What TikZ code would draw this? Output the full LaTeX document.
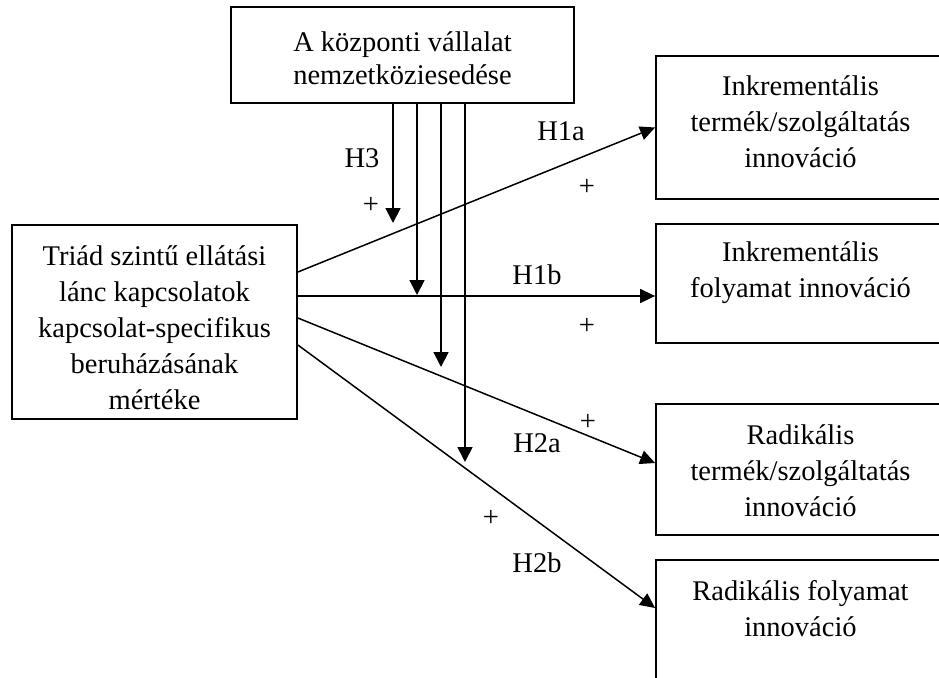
\documentclass[tikz,border=0pt]{standalone}
\usepackage{fontspec}
\setmainfont{Liberation Serif}
\usetikzlibrary{arrows.meta,calc}
\begin{document}
\begin{tikzpicture}[x=1pt,y=-1pt,
  box/.style={draw, line width=1.8pt, inner sep=0pt},
  txt/.style={align=center, inner sep=0pt, font=\fontsize{28.5}{36}\selectfont},
  conn/.style={line width=1.5pt, -{Triangle[length=15pt,width=14pt]}},
  vconn/.style={line width=1.8pt, -{Triangle[length=15pt,width=15pt]}},
  lbl/.style={font=\fontsize{28.5}{34}\selectfont, inner sep=0pt}]
\useasboundingbox (0,0) rectangle (939,677);
\clip (0,0) rectangle (939,677);
% boxes
\node (T) [box, minimum width=343pt, minimum height=96pt,
  label={[txt, font=\fontsize{28.5}{33}\selectfont, yshift=-3.5pt]center:{A központi vállalat\\nemzetköziesedése}}] at (402.5,55) {};
\node (L) [box, minimum width=285pt, minimum height=194pt,
  label={[txt, yshift=-6pt]center:{Triád szintű ellátási\\lánc kapcsolatok\\kapcsolat-specifikus\\beruházásának\\mértéke}}] at (154.5,322) {};
\node (R1) [box, minimum width=289pt, minimum height=143pt,
  label={[txt, yshift=5.5pt]center:{Inkrementális\\termék/szolgáltatás\\innováció}}] at (800.5,127.5) {};
\node (R2) [box, minimum width=289pt, minimum height=119pt,
  label={[txt, yshift=10.5pt]center:{Inkrementális\\folyamat innováció}}] at (800.5,283.5) {};
\node (R3) [box, minimum width=289pt, minimum height=131pt,
  label={[txt, yshift=-1.5pt]center:{Radikális\\termék/szolgáltatás\\innováció}}] at (800.5,469.5) {};
\node (R4) [box, minimum width=289pt, minimum height=140pt,
  label={[txt, yshift=21.5pt]center:{Radikális folyamat\\innováció}}] at (800.5,630) {};
% start points on the left box
\coordinate (s1) at ([yshift=50pt]L.east);
\coordinate (s2) at ([yshift=26pt]L.east);
\coordinate (s3) at ([yshift=4pt]L.east);
\coordinate (s4) at ([yshift=-23pt]L.east);
% main arrows
\draw[conn] (s1) -- (R1.west);
\draw[conn] (s2) -- (s2 -| R2.west);
\draw[conn] (s3) -- ([yshift=6.5pt]R3.west);
\draw[conn] (s4) -- ([yshift=22pt]R4.west);
% moderator arrows
\coordinate (m1) at (393,223);
\coordinate (m2) at (417,295);
\coordinate (m3) at (441,367);
\coordinate (m4) at (465,462);
\draw[vconn] (m1 |- T.south) -- (m1);
\draw[vconn] (m2 |- T.south) -- (m2);
\draw[vconn] (m3 |- T.south) -- (m3);
\draw[vconn] (m4 |- T.south) -- (m4);
% labels
\node (lH3) [lbl] at (362,158) {H3};
\node (p3) [lbl] at (371,205) {+};
\node (lH1a) [lbl] at (561,131) {H1a};
\node (p1a) [lbl] at (587,187) {+};
\node (lH1b) [lbl] at (537,275) {H1b};
\node (p1b) [lbl] at (587,326) {+};
\node (p2a) [lbl] at (588,422) {+};
\node (lH2a) [lbl] at (537,443) {H2a};
\node (p2b) [lbl] at (491,518) {+};
\node (lH2b) [lbl] at (537,563) {H2b};
\end{tikzpicture}
\end{document}
